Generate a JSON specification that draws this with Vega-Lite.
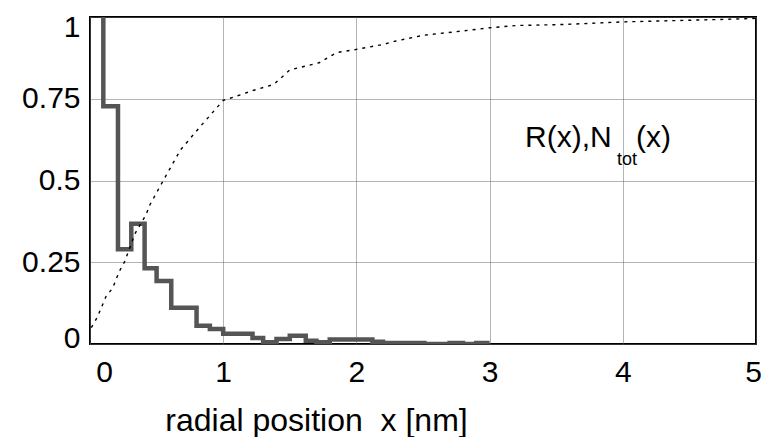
{
  "$schema": "https://vega.github.io/schema/vega-lite/v6.json",
  "autosize": {"type": "none"},
  "padding": {"left": 90, "top": 17, "right": 7, "bottom": 93},
  "width": 666,
  "height": 327,
  "background": "white",
  "config": {
    "view": {"stroke": "black", "strokeWidth": 2},
    "font": "Liberation Sans"
  },
  "datasets": {
    "R": [
      {"x": 0.1, "R": 1.0},
      {"x": 0.1, "R": 0.727},
      {"x": 0.21, "R": 0.29},
      {"x": 0.31, "R": 0.368},
      {"x": 0.41, "R": 0.232},
      {"x": 0.5, "R": 0.193},
      {"x": 0.61, "R": 0.111},
      {"x": 0.8, "R": 0.056},
      {"x": 0.9, "R": 0.046},
      {"x": 1.0, "R": 0.031},
      {"x": 1.22, "R": 0.018},
      {"x": 1.3, "R": 0.005},
      {"x": 1.4, "R": 0.015},
      {"x": 1.5, "R": 0.025},
      {"x": 1.62, "R": 0.01},
      {"x": 1.7, "R": 0.005},
      {"x": 1.8, "R": 0.014},
      {"x": 2.12, "R": 0.007},
      {"x": 2.2, "R": 0.003},
      {"x": 2.51, "R": 0.0},
      {"x": 2.7, "R": 0.003},
      {"x": 2.8, "R": 0.0},
      {"x": 2.9, "R": 0.003},
      {"x": 3.0, "R": 0.003}
    ],
    "N": [
      {"x": 0.01, "N": 0.05},
      {"x": 0.055, "N": 0.082},
      {"x": 0.12, "N": 0.145},
      {"x": 0.17, "N": 0.171},
      {"x": 0.22, "N": 0.222},
      {"x": 0.26, "N": 0.252},
      {"x": 0.34, "N": 0.339},
      {"x": 0.42, "N": 0.395},
      {"x": 0.45, "N": 0.426},
      {"x": 0.55, "N": 0.5},
      {"x": 0.68, "N": 0.594},
      {"x": 0.83, "N": 0.666},
      {"x": 1.0, "N": 0.745},
      {"x": 1.1, "N": 0.758},
      {"x": 1.23, "N": 0.776},
      {"x": 1.38, "N": 0.794},
      {"x": 1.5, "N": 0.838},
      {"x": 1.72, "N": 0.86},
      {"x": 1.85, "N": 0.891},
      {"x": 2.0, "N": 0.901},
      {"x": 2.2, "N": 0.916},
      {"x": 2.29, "N": 0.926},
      {"x": 2.5, "N": 0.944},
      {"x": 2.75, "N": 0.955},
      {"x": 3.0, "N": 0.967},
      {"x": 3.2, "N": 0.974},
      {"x": 3.55, "N": 0.977},
      {"x": 4.0, "N": 0.985},
      {"x": 4.78, "N": 0.993},
      {"x": 5.0, "N": 0.996}
    ],
    "one": [{}]
  },
  "layer": [
    {
      "data": {"name": "R"},
      "mark": {"type": "line", "interpolate": "step-after", "color": "#555555", "strokeWidth": 4.5, "clip": true},
      "encoding": {
        "x": {
          "field": "x", "type": "quantitative",
          "scale": {"domain": [0, 5], "nice": false, "zero": false},
          "axis": {
            "values": [0, 1, 2, 3, 4, 5],
            "labelExpr": "'' + datum.value",
            "title": "radial position\u00a0 x [nm]",
            "domain": false, "ticks": false,
            "grid": true, "gridColor": "#666", "gridDash": [1, 1], "gridWidth": 1,
            "labelFontSize": 30, "labelColor": "black", "labelFont": "Liberation Sans",
            "labelFlush": false, "labelPadding": 13,
            "labelOffset": {"expr": "datum.value === 0 ? 14 : (datum.value === 5 ? -3 : 0)"},
            "titleFontSize": 32, "titleFontWeight": "normal", "titleColor": "black", "titleFont": "Liberation Sans",
            "titleX": 226, "titleY": 86, "titleAlign": "center", "titleBaseline": "alphabetic", "titleAnchor": null
          }
        },
        "y": {
          "field": "R", "type": "quantitative",
          "scale": {"domain": [0, 1], "nice": false},
          "axis": {
            "values": [0, 0.25, 0.5, 0.75, 1],
            "labelExpr": "'' + datum.value",
            "title": null,
            "domain": false, "ticks": false,
            "grid": true, "gridColor": "#666", "gridDash": [1, 1], "gridWidth": 1,
            "labelFontSize": 30, "labelColor": "black", "labelFont": "Liberation Sans",
            "labelFlush": false, "labelPadding": 10,
            "labelOffset": {"expr": "datum.value === 1 ? 10 : (datum.value === 0 ? -6 : 0)"}
          }
        }
      }
    },
    {
      "data": {"name": "N"},
      "mark": {"type": "line", "color": "black", "strokeWidth": 1.4, "strokeDash": [3, 5], "clip": true},
      "encoding": {
        "x": {"field": "x", "type": "quantitative"},
        "y": {"field": "N", "type": "quantitative"}
      }
    },
    {
      "data": {"name": "one"},
      "mark": {"type": "text", "text": "R(x),N", "fontSize": 30, "align": "left", "baseline": "alphabetic", "color": "black", "font": "Liberation Sans"},
      "encoding": {"x": {"datum": 3.266}, "y": {"datum": 0.603}}
    },
    {
      "data": {"name": "one"},
      "mark": {"type": "text", "text": "tot", "fontSize": 18, "align": "left", "baseline": "alphabetic", "color": "black", "font": "Liberation Sans"},
      "encoding": {"x": {"datum": 3.956}, "y": {"datum": 0.546}}
    },
    {
      "data": {"name": "one"},
      "mark": {"type": "text", "text": "(x)", "fontSize": 30, "align": "left", "baseline": "alphabetic", "color": "black", "font": "Liberation Sans"},
      "encoding": {"x": {"datum": 4.1}, "y": {"datum": 0.603}}
    }
  ]
}
